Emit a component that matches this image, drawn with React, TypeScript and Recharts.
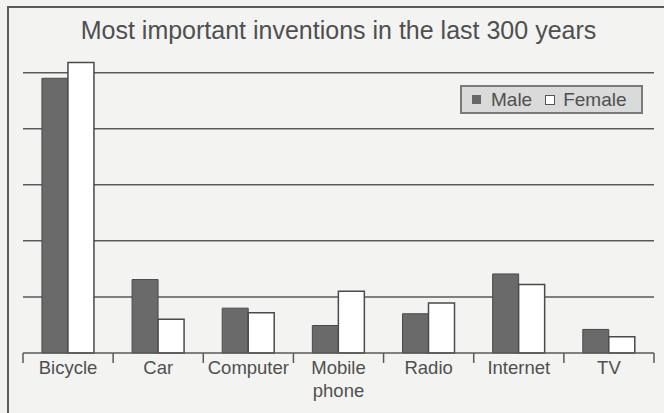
import { BarChart, Bar, XAxis, YAxis, ReferenceLine } from "recharts";

const categories = ["Bicycle", "Car", "Computer", "Mobile phone", "Radio", "Internet", "TV"];
const maleValues = [49.0, 13.1, 8.0, 4.9, 7.0, 14.1, 4.2];
const femaleValues = [51.8, 6.0, 7.2, 11.0, 8.9, 12.2, 2.9];
const gridValues = [10, 20, 30, 40, 50];

const data = categories.map((name, i) => ({
    name,
    male: maleValues[i],
    female: femaleValues[i],
}));

const W = 664;
const H = 413;
const margin = { top: 39, right: 10, left: 23, bottom: 10 };
const band = (W - margin.left - margin.right) / categories.length;
const textColor = "#4f4f4f";
const lineColor = "#5a5a5a";
const font = "'Liberation Sans', Arial, sans-serif";

function CategoryTick(props: any) {
    const { x, y, payload, index } = props;
    const words = String(payload.value).split(" ");
    const isLast = index === categories.length - 1;
    return (
        <g>
            <line x1={x - band / 2} y1={y} x2={x - band / 2} y2={y + 10} stroke={lineColor} strokeWidth={1.5} />
            {isLast && (
                <line x1={x + band / 2} y1={y} x2={x + band / 2} y2={y + 10} stroke={lineColor} strokeWidth={1.5} />
            )}
            {words.map((w, i) => (
                <text
                    key={i}
                    x={x}
                    y={y + 21 + i * 23}
                    textAnchor="middle"
                    fill={textColor}
                    fontSize={18.5}
                    fontFamily={font}
                >
                    {w}
                </text>
            ))}
        </g>
    );
}

function LegendBox() {
    return (
        <div
            style={{
                position: "absolute",
                left: 460,
                top: 85,
                boxSizing: "border-box",
                width: 183,
                height: 29,
                background: "#dadada",
                border: "2px solid #7a7a7a",
                display: "flex",
                alignItems: "center",
                paddingLeft: 10,
                fontFamily: font,
                fontSize: 19,
                color: textColor,
            }}
        >
            <span style={{ width: 9, height: 9, background: "#676767", display: "inline-block" }} />
            <span style={{ marginLeft: 10 }}>Male</span>
            <span
                style={{
                    boxSizing: "border-box",
                    width: 10,
                    height: 10,
                    background: "#fff",
                    border: "1.5px solid #555",
                    display: "inline-block",
                    marginLeft: 13,
                }}
            />
            <span style={{ marginLeft: 8 }}>Female</span>
        </div>
    );
}

export default function App() {
    return (
        <div style={{ position: "absolute", left: 0, top: 0, width: W, height: H, background: "#f3f3f2", overflow: "hidden" }}>
            <div
                style={{
                    position: "absolute",
                    left: 7,
                    top: 6,
                    width: 700,
                    height: 450,
                    borderLeft: "2px solid #5a5a5a",
                    borderTop: "2px solid #5a5a5a",
                }}
            />
            <div
                style={{
                    position: "absolute",
                    left: margin.left,
                    width: W - margin.left - margin.right,
                    top: 15,
                    textAlign: "center",
                    fontFamily: font,
                    fontSize: 25,
                    lineHeight: "30px",
                    color: textColor,
                }}
            >
                Most important inventions in the last 300 years
            </div>
            <div style={{ position: "absolute", left: 0, top: 0 }}>
                <BarChart width={W} height={H} data={data} margin={margin} barGap={0} barCategoryGap="21%">
                    <XAxis
                        dataKey="name"
                        height={50}
                        interval={0}
                        tickLine={false}
                        tickSize={0}
                        tickMargin={0}
                        axisLine={{ stroke: lineColor, strokeWidth: 1.5 }}
                        tick={<CategoryTick />}
                    />
                    <YAxis hide domain={[0, 56]} />
                    {gridValues.map((v) => (
                        <ReferenceLine key={v} y={v} stroke={lineColor} strokeWidth={1.5} {...({ zIndex: -100 } as any)} />
                    ))}
                    <Bar dataKey="male" name="Male" fill="#6a6a6a" stroke="#4a4a4a" strokeWidth={1} isAnimationActive={false} />
                    <Bar dataKey="female" name="Female" fill="#ffffff" stroke="#4a4a4a" strokeWidth={1.5} isAnimationActive={false} />
                </BarChart>
            </div>
            <LegendBox />
        </div>
    );
}
